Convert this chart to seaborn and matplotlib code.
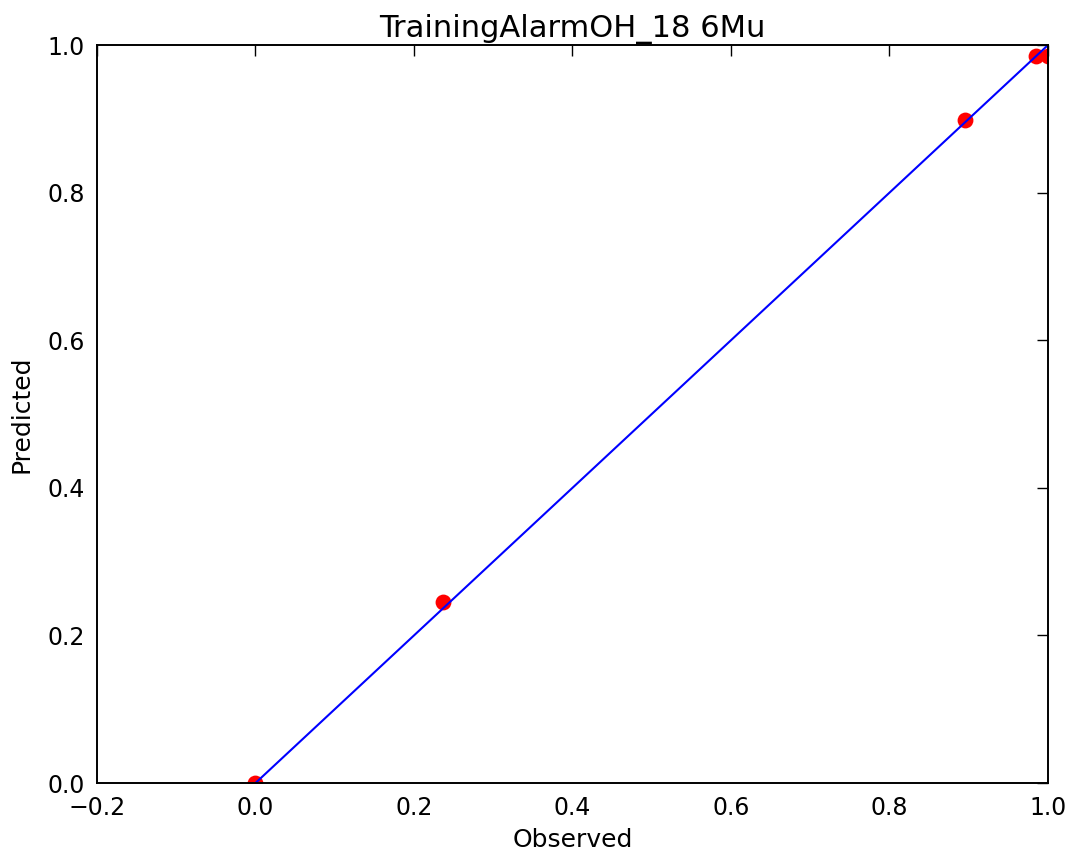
import matplotlib
matplotlib.use("Agg")
import matplotlib.pyplot as plt
import seaborn as sns
import pandas as pd

observed = [0.0, 0.237, 0.896, 0.985, 1.0]
predicted = [0.0, 0.245, 0.899, 0.985, 0.985]
line_x = [0.0, 1.0]
line_y = [0.0, 1.0]

sns.set_style("white")
plt.rcParams["font.family"] = ["DejaVu Sans"]
plt.rcParams["text.color"] = "black"
plt.rcParams["axes.labelcolor"] = "black"
plt.rcParams["xtick.color"] = "black"
plt.rcParams["ytick.color"] = "black"

fig = plt.figure(figsize=(10.78, 8.5), dpi=100)
ax = fig.add_axes([0.09, 0.0788, 0.882, 0.868])

pts = pd.DataFrame({"Observed": observed, "Predicted": predicted})
ref = pd.DataFrame({"x": line_x, "y": line_y})

# markers sit under the frame so the axis lines stay visible across them
sns.scatterplot(data=pts, x="Observed", y="Predicted", ax=ax, color="red",
                edgecolor="red", s=130, linewidth=0, zorder=2.1)
sns.lineplot(data=ref, x="x", y="y", ax=ax, color="blue", linewidth=1.5, zorder=2.2)

ax.set_xlim(-0.2, 1.0)
ax.set_ylim(0.0, 1.0)
ax.set_xticks([-0.2, 0.0, 0.2, 0.4, 0.6, 0.8, 1.0])
ax.set_yticks([0.0, 0.2, 0.4, 0.6, 0.8, 1.0])
ax.set_xlabel("Observed", fontsize=18, labelpad=6)
ax.set_ylabel("Predicted", fontsize=18, labelpad=10)
ax.set_title("TrainingAlarmOH_18 6Mu", fontsize=22, pad=6)

ax.tick_params(direction="in", length=8, width=1, top=True, right=True,
               labelsize=17, pad=9, color="black", labelcolor="black")
for sp in ax.spines.values():
    sp.set_visible(True)
    sp.set_color("black")
    sp.set_linewidth(1.4)

fig.savefig("out.png", dpi=100)
